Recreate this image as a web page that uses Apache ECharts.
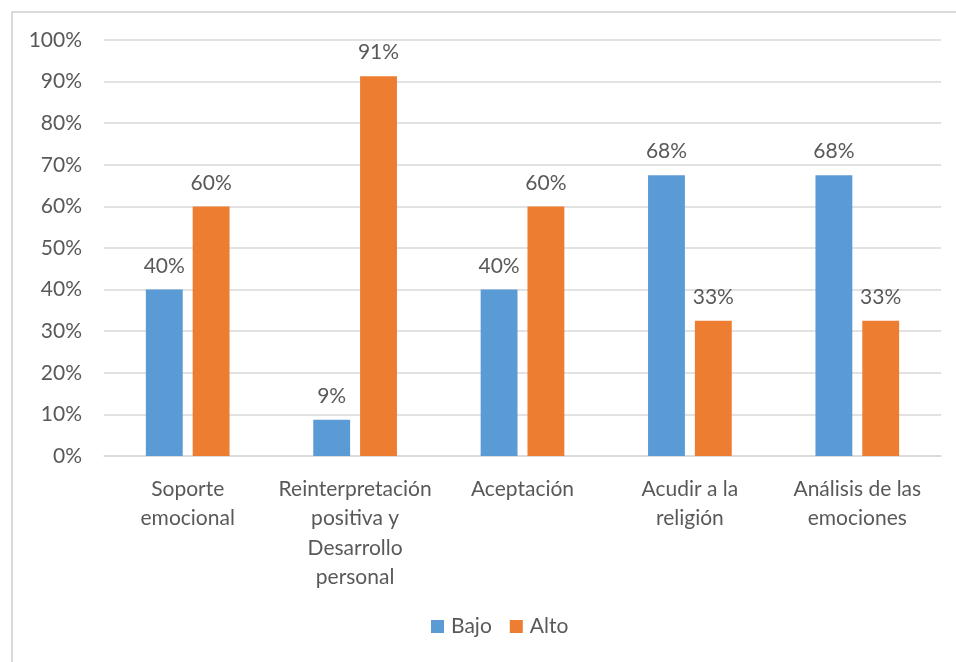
<!DOCTYPE html>
<html>
<head>
<meta charset="utf-8">
<script src="https://cdn.jsdelivr.net/npm/echarts@6/dist/echarts.min.js"></script>
<style>
  html, body { margin: 0; padding: 0; background: #fff; }
  #frame { position: absolute; left: 11px; top: 11px; width: 960px; height: 680px; border: 2px solid #d9d9d9; box-sizing: border-box; }
  #chart { width: 956px; height: 662px; position: absolute; left: 0; top: 0; }
</style>
</head>
<body>
<div id="frame"></div>
<div id="chart"></div>
<script>
const categories = [
  "Soporte\nemocional",
  "Reinterpretación\npositiva y\nDesarrollo\npersonal",
  "Aceptación",
  "Acudir a la\nreligión",
  "Análisis de las\nemociones"
];
const bajo = [40, 8.7, 40, 67.5, 67.5];
const alto = [60, 91.3, 60, 32.5, 32.5];
const yTicks = [0, 10, 20, 30, 40, 50, 60, 70, 80, 90, 100];

const font = "Lato, 'Open Sans', sans-serif";
const textColor = "#595959";

const chart = echarts.init(document.getElementById("chart"));

const labelOpt = {
  show: true,
  position: "top",
  distance: 13,
  color: textColor,
  fontFamily: font,
  fontSize: 21,
  formatter: (p) => Math.round(p.value) + "%",
};

chart.setOption({
  animation: false,
  textStyle: { fontFamily: font },
  grid: { left: 104, right: 15, top: 40, bottom: 206 },
  legend: {
    data: ["Bajo", "Alto"],
    bottom: 20,
    left: 426,
    itemWidth: 13,
    itemHeight: 13,
    itemGap: 18,
    icon: "rect",
    textStyle: { color: textColor, fontSize: 21, fontFamily: font, padding: [0, 0, 0, 2] },
  },
  xAxis: {
    type: "category",
    data: categories,
    axisLine: { lineStyle: { color: "#d9d9d9", width: 1.5 } },
    axisTick: { show: false },
    axisLabel: {
      color: textColor,
      fontSize: 21,
      fontFamily: font,
      lineHeight: 29.5,
      margin: 18,
      interval: 0,
    },
  },
  yAxis: {
    type: "value",
    min: yTicks[0],
    max: yTicks[yTicks.length - 1],
    interval: 10,
    axisLine: { show: false },
    axisTick: { show: false },
    splitLine: { lineStyle: { color: "#d9d9d9", width: 1.5 } },
    axisLabel: {
      color: textColor,
      fontSize: 21,
      fontFamily: font,
      margin: 22,
      formatter: "{value}%",
    },
  },
  series: [
    {
      name: "Bajo",
      type: "bar",
      data: bajo,
      barGap: "27%",
      barCategoryGap: "50%",
      itemStyle: { color: "#5b9bd5" },
      label: labelOpt,
    },
    {
      name: "Alto",
      type: "bar",
      data: alto,
      itemStyle: { color: "#ed7d31" },
      label: labelOpt,
    },
  ],
});
</script>
</body>
</html>
